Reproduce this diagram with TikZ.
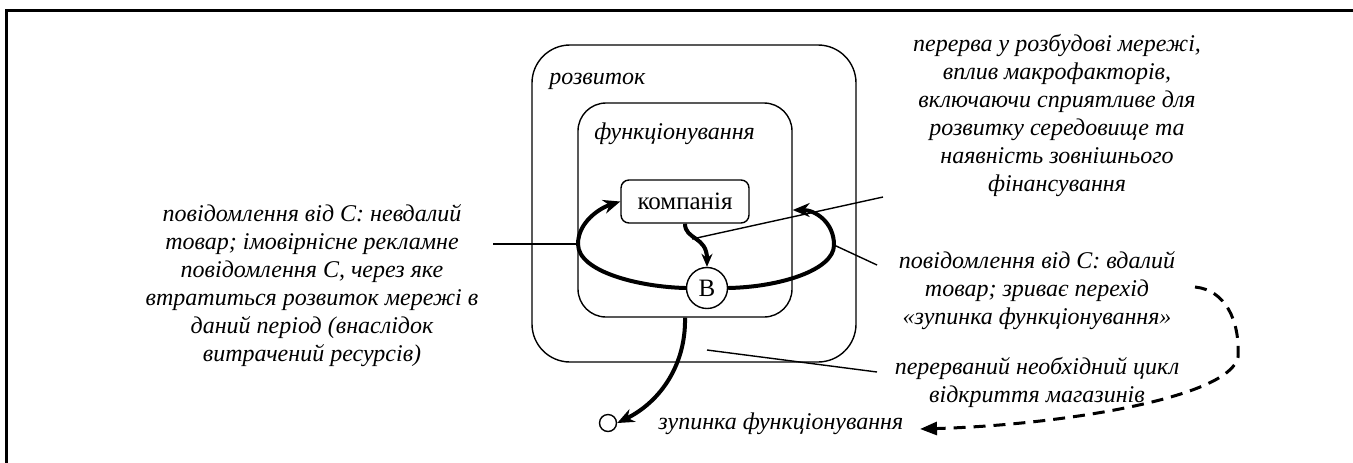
\documentclass[tikz,border=0pt]{standalone}
\usepackage{fontspec}
\setmainfont{Liberation Serif}
\usetikzlibrary{arrows.meta}
\begin{document}
\begin{tikzpicture}[x=0.5pt,y=-0.5pt,
  txt/.style={font=\fontsize{12}{14}\selectfont\itshape, align=center, inner sep=0pt},
  upright/.style={font=\fontsize{12.5}{14}\selectfont},
  thinline/.style={line width=0.7pt},
  boxline/.style={draw, line width=0.7pt},
  flow/.style={line width=2pt, -{Stealth[length=8.5pt,width=7pt]}},
  smallflow/.style={line width=2pt, -{Stealth[length=6.5pt,width=5.5pt]}},
  dashflow/.style={line width=1.5pt, dash pattern=on 6pt off 4pt, -{Triangle[length=8.5pt,width=6.5pt]}}
]
\useasboundingbox (0,0) rectangle (1353,462);

% frame
\draw[line width=1.5pt] (6,470) -- (6,10) -- (1360,10);

% states
\node[boxline, rounded corners=19pt, minimum width=162pt, minimum height=158.5pt, inner sep=0pt] (dev) at (694,203.5) {};
\node[boxline, rounded corners=14pt, minimum width=107pt, minimum height=107pt, inner sep=0pt] (func) at (685,210) {};
\node[boxline, rounded corners=4pt, minimum width=64pt, minimum height=21.5pt, inner sep=0pt, upright] (comp) at (685,201.5) {компанія};
\node[boxline, circle, minimum size=20.5pt, inner sep=0pt, upright] (B) at (707,288) {B};
\node[boxline, circle, minimum size=8.5pt, inner sep=0pt] (stop) at (608,423) {};

\node[txt, anchor=west] (ldev) at (549,81) {розвиток};
\node[txt, anchor=west] (lfunc) at (594,134) {функціонування};

% comments
\node[txt] (tmacro) at (1057,115) {перерва у розбудові мережі,\\вплив макрофакторів,\\включаючи сприятливе для\\розвитку середовище та\\наявність зовнішнього\\фінансування};
\node[txt] (tfail) at (312,286) {повідомлення від С: невдалий\\товар; імовірнісне рекламне\\повідомлення С, через яке\\втратиться розвиток мережі в\\даний період (внаслідок\\витрачений ресурсів)};
\node[txt] (tok) at (1037,291) {повідомлення від С: вдалий\\товар; зриває перехід\\«зупинка функціонування»};
\node[txt] (tcycle) at (1037,382) {перерваний необхідний цикл\\відкриття магазинів};
\node[txt, anchor=west] (tstop) at (658,424) {зупинка функціонування};

% points on the transitions
\coordinate (lft) at (578,244);
\coordinate (rgt) at (834,245);
\coordinate (mid) at (692,239);
\coordinate (ring) at (707,350);
\coordinate (pfail) at (493,244);
\coordinate (pok) at (877,265);
\coordinate (pmacro) at (883,197);
\coordinate (pcycle) at (877,372);
\coordinate (dstart) at (1195,287);
\coordinate (dturn) at (1238,357);
\coordinate (dend) at (920,429);

% transitions
\draw[flow] (B.west) .. controls (640,287) and (578,272) .. (lft) .. controls (578,222) and (600,208) .. (comp.west);
\draw[flow] (B.east) .. controls (780,287) and (834,270) .. (rgt) .. controls (834,222) and (815,210) .. (func.east);
\draw[smallflow] (comp.south) .. controls (685,240) and (707,236) .. (B.north);
\draw[flow] (func.south) .. controls (686,365) and (660,402) .. (stop.east);
\draw[dashflow] (dstart) .. controls (1225,290) and (1240,320) .. (dturn) .. controls (1230,398) and (1060,425) .. (dend);

% leaders
\draw[thinline] (pfail) -- (lft);
\draw[thinline] (pok) -- (rgt);
\draw[thinline] (pmacro) -- (mid);
\draw[thinline] (pcycle) -- (ring);
\end{tikzpicture}
\end{document}
